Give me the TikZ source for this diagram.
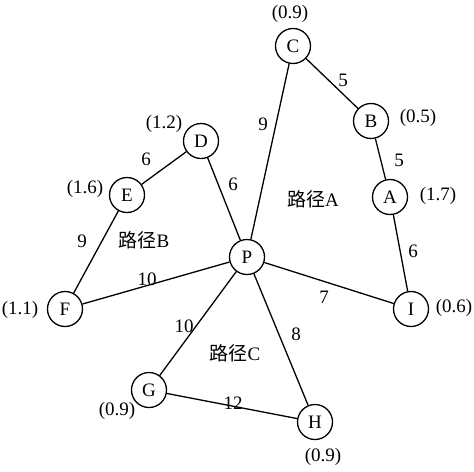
\documentclass[tikz,border=0pt]{standalone}
\usepackage{fontspec}
\setmainfont{Liberation Serif}
\newfontfamily\cjk{Noto Sans CJK SC}
\tikzset{
        x=0.5pt, y=-0.5pt,
        every path/.style={line width=0.65pt},
        city/.style={circle, draw=black, line width=0.65pt, minimum size=17.5pt, inner sep=0pt, font=\fontsize{9.5}{11}\selectfont},
        weight/.style={inner sep=1pt, font=\fontsize{9.5}{11}\selectfont},
        value/.style={inner sep=1pt, font=\fontsize{9.5}{11}\selectfont},
        route/.style={inner sep=1pt, font=\fontsize{9.5}{11}\selectfont}
          }
\begin{document}
\begin{tikzpicture}
            \useasboundingbox (0,0) rectangle (474,471);
            % cities
            \node[city] (P) at (247,257) {P};
            \node[city] (C) at (293,46) {C};
            \node[city] (B) at (371,121) {B};
            \node[city] (A) at (390,197) {A};
            \node[city] (I) at (411,309) {I};
            \node[city] (D) at (201,141) {D};
            \node[city] (E) at (127,195) {E};
            \node[city] (F) at (65,309) {F};
            \node[city] (G) at (149,390) {G};
            \node[city] (H) at (315,422) {H};
            % values
            \node[value] (vC) at (290,14) {(0.9)};
            \node[value] (vB) at (418,118) {(0.5)};
            \node[value] (vA) at (438,196) {(1.7)};
            \node[value] (vI) at (454,308) {(0.6)};
            \node[value] (vD) at (164,124) {(1.2)};
            \node[value] (vE) at (85,189) {(1.6)};
            \node[value] (vF) at (20,310) {(1.1)};
            \node[value] (vG) at (117,411) {(0.9)};
            \node[value] (vH) at (323,457) {(0.9)};
            % roads
            \draw (P) -- (C) -- (B) -- (A) -- (I) -- (P);
            \draw (P) -- (D) -- (E) -- (F) -- (P);
            \draw (P) -- (G) -- (H) -- (P);
            % distances
            \node[weight] (wPC) at (263,124) {9};
            \node[weight] (wCB) at (343,80) {5};
            \node[weight] (wBA) at (399,160) {5};
            \node[weight] (wAI) at (413,251) {6};
            \node[weight] (wPI) at (324,297) {7};
            \node[weight] (wPD) at (233,184) {6};
            \node[weight] (wDE) at (146,159) {6};
            \node[weight] (wEF) at (82,241) {9};
            \node[weight] (wFP) at (147,279) {10};
            \node[weight] (wPG) at (184,326) {10};
            \node[weight] (wPH) at (296,334) {8};
            \node[weight] (wGH) at (233,403) {12};
            % routes
            \node[route] (rA) at (313,199) {{\cjk 路径}A};
            \node[route] (rB) at (144,240) {{\cjk 路径}B};
            \node[route] (rC) at (235,353) {{\cjk 路径}C};
          \end{tikzpicture}
\end{document}
